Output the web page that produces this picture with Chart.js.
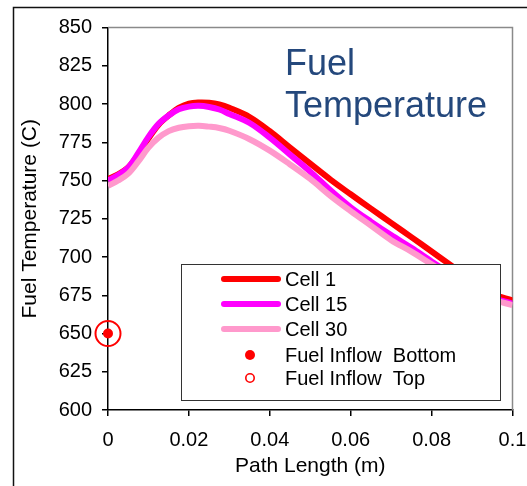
<!DOCTYPE html>
<html>
<head>
<meta charset="utf-8">
<script src="https://cdn.jsdelivr.net/npm/chart.js@4.4.0/dist/chart.umd.min.js"></script>
<style>
  html, body { margin: 0; padding: 0; background: #fff; }
  #wrap { width: 527px; height: 486px; }
</style>
</head>
<body>
<div id="wrap"><canvas id="fuelChart" width="527" height="486"></canvas></div>
<script>
// --- DATA ---
const pathLength = [0, 0.0025, 0.005, 0.0075, 0.01, 0.0125, 0.015, 0.0175, 0.02, 0.0225, 0.025,
  0.0275, 0.03, 0.035, 0.04, 0.045, 0.05, 0.055, 0.06, 0.065, 0.07, 0.075, 0.08, 0.085, 0.09, 0.095, 0.1];
const cell1 = [751, 754, 758.5, 767, 777.5, 786.5, 792.5, 797.5, 800.3, 801, 800.8,
  799.7, 797.5, 791.5, 782.2, 771.5, 761, 750.6, 741, 731.6, 722.3, 713, 703.6, 694.2, 685, 676, 671.5];
const cell15 = [750, 753.5, 758.5, 768, 778.5, 787, 792.5, 796.5, 798.3, 798.8, 798,
  796.4, 793.5, 787.6, 778, 766.9, 755.8, 743.6, 732.5, 723.1, 714.3, 706, 697.1, 688.7, 681, 673.5, 669.5];
const cell30 = [746.5, 750, 754.5, 762.5, 771.5, 778, 782.3, 784.5, 785.5, 785.8, 785.2,
  784.3, 782.5, 777, 769.5, 760.5, 751, 740, 730, 720.5, 711, 703.5, 695.2, 687, 679.5, 672.5, 668.5];
const inflowX = [0];
const inflowBottom = [650];
const inflowTop = [650];
const seriesNames = ['Cell 1', 'Cell 15', 'Cell 30', 'Fuel Inflow  Bottom', 'Fuel Inflow  Top'];
const yTicks = { min: 600, max: 850, step: 25 };
const xTicks = { min: 0, max: 0.1, step: 0.02 };

const FONT = "'Liberation Sans', Arial, sans-serif";

function toPoints(xs, ys) {
  return xs.map((x, i) => ({ x: x, y: ys[i] }));
}

function lineSet(label, ys, color, order) {
  return {
    label: label,
    data: toPoints(pathLength, ys),
    borderColor: color,
    backgroundColor: color,
    borderWidth: 6,
    pointRadius: 0,
    tension: 0.35,
    order: order,
    isLine: true
  };
}

// --- DECORATION PLUGIN: frame, plot border, title, legend ---
const decor = {
  id: 'decor',
  beforeDatasetsDraw(chart) {
    const { ctx, chartArea: a } = chart;
    ctx.save();
    ctx.strokeStyle = '#8a8a8a';
    ctx.lineWidth = 1.5;
    ctx.beginPath();
    ctx.moveTo(a.left, a.top);
    ctx.lineTo(a.right, a.top);
    ctx.lineTo(a.right, a.bottom);
    ctx.stroke();
    ctx.restore();
  },
  afterDraw(chart) {
    const { ctx } = chart;
    ctx.save();
    // outer frame
    ctx.strokeStyle = '#111';
    ctx.lineWidth = 1.5;
    ctx.beginPath();
    ctx.moveTo(13.5, chart.height);
    ctx.lineTo(13.5, 7.5);
    ctx.lineTo(chart.width, 7.5);
    ctx.stroke();

    // title inside plot
    ctx.fillStyle = '#24487c';
    ctx.font = '36px ' + FONT;
    ctx.textAlign = 'left';
    ctx.textBaseline = 'alphabetic';
    ctx.fillText('Fuel', 285, 75);
    ctx.fillText('Temperature', 285, 117);

    // legend box
    const bx = 181, by = 264, bw = 319, bh = 136;
    ctx.fillStyle = '#fff';
    ctx.fillRect(bx, by, bw, bh);
    ctx.strokeStyle = '#333';
    ctx.lineWidth = 1;
    ctx.strokeRect(bx + 0.5, by + 0.5, bw, bh);

    const rows = [279, 304, 329, 355, 378];
    ctx.font = '20px ' + FONT;
    ctx.textBaseline = 'middle';
    chart.data.datasets.forEach((ds, i) => {
      const y = rows[i];
      if (ds.isLine) {
        ctx.strokeStyle = ds.borderColor;
        ctx.lineWidth = 6;
        ctx.lineCap = 'round';
        ctx.beginPath();
        ctx.moveTo(224, y);
        ctx.lineTo(278, y);
        ctx.stroke();
      } else {
        ctx.beginPath();
        if (ds.filledMarker) {
          ctx.fillStyle = ds.pointBorderColor;
          ctx.arc(250, y, 5, 0, Math.PI * 2);
          ctx.fill();
        } else {
          ctx.strokeStyle = ds.pointBorderColor;
          ctx.lineWidth = 1.6;
          ctx.arc(250, y, 4.2, 0, Math.PI * 2);
          ctx.stroke();
        }
      }
      ctx.fillStyle = '#000';
      ctx.fillText(ds.label, 285, y + 1);
    });
    ctx.restore();
  }
};

const ctx = document.getElementById('fuelChart');
const fuelChart = new Chart(ctx, {
  type: 'line',
  data: {
    datasets: [
      lineSet(seriesNames[0], cell1, '#ff0000', 3),
      lineSet(seriesNames[1], cell15, '#ff00ff', 2),
      lineSet(seriesNames[2], cell30, '#ff99cc', 1),
      {
        label: seriesNames[3],
        data: toPoints(inflowX, inflowBottom),
        showLine: false,
        pointRadius: 5,
        pointBackgroundColor: '#ff0000',
        pointBorderColor: '#ff0000',
        pointBorderWidth: 0,
        clip: false,
        order: 0,
        filledMarker: true
      },
      {
        label: seriesNames[4],
        data: toPoints(inflowX, inflowTop),
        showLine: false,
        pointRadius: 12.5,
        pointBackgroundColor: 'rgba(0,0,0,0)',
        pointBorderColor: '#ff0000',
        pointBorderWidth: 2,
        clip: false,
        order: 0
      }
    ]
  },
  options: {
    responsive: false,
    animation: false,
    events: [],
    layout: { padding: { left: 0, top: 27.5, right: 10.5, bottom: 0 } },
    plugins: {
      legend: { display: false },
      tooltip: { enabled: false }
    },
    scales: {
      x: {
        type: 'linear',
        min: xTicks.min,
        max: xTicks.max,
        afterFit(s) { s.height = 76; s.paddingLeft = 0; s.paddingRight = 0; },
        ticks: {
          stepSize: xTicks.step,
          color: '#000',
          font: { family: FONT, size: 20 },
          padding: 12,
          maxRotation: 0,
          callback: v => String(+v.toFixed(2))
        },
        grid: { drawOnChartArea: false, drawTicks: true, tickLength: 6, color: '#000', lineWidth: 1.5 },
        border: { color: '#000', width: 1.5 },
        title: {
          display: true,
          text: 'Path Length (m)',
          color: '#000',
          font: { family: FONT, size: 21 },
          padding: { top: 0, bottom: 7 }
        }
      },
      y: {
        type: 'linear',
        min: yTicks.min,
        max: yTicks.max,
        afterFit(s) { s.width = 108; s.paddingTop = 0; s.paddingBottom = 0; },
        ticks: {
          stepSize: yTicks.step,
          color: '#000',
          font: { family: FONT, size: 20 },
          padding: 10
        },
        grid: { drawOnChartArea: false, drawTicks: true, tickLength: 6, color: '#000', lineWidth: 1.5 },
        border: { color: '#000', width: 1.5 },
        title: {
          display: true,
          text: 'Fuel Temperature (C)',
          color: '#000',
          font: { family: FONT, size: 21 },
          padding: { top: 18, bottom: 0 }
        }
      }
    }
  },
  plugins: [decor]
});
</script>
</body>
</html>
